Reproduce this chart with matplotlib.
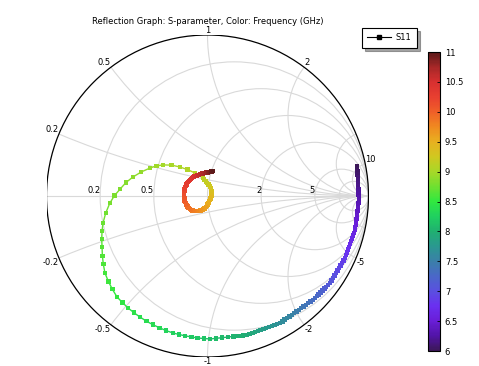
import numpy as np
import matplotlib
matplotlib.use("Agg")
import matplotlib.pyplot as plt
from matplotlib.collections import LineCollection
from matplotlib.colors import LinearSegmentedColormap, Normalize
from matplotlib.patches import Circle
from matplotlib.lines import Line2D
import matplotlib.cm as cm

# ---------------- data ----------------
title = "Reflection Graph: S-parameter, Color: Frequency (GHz)"
series_name = "S11"
f_start, f_stop = 6.0, 11.0

gamma_re = [
    0.929, 0.930, 0.931, 0.932, 0.933, 0.934, 0.935, 0.936, 0.937, 0.938, 0.939, 0.940, 0.941,
    0.939, 0.936, 0.934, 0.932, 0.930, 0.927, 0.925, 0.923, 0.921, 0.918, 0.916,
    0.910, 0.904, 0.897, 0.891, 0.885, 0.879, 0.873, 0.866, 0.860, 0.854,
    0.845, 0.835, 0.826, 0.817, 0.808, 0.798, 0.789, 0.780, 0.770, 0.761,
    0.749, 0.737, 0.726, 0.714, 0.702, 0.690, 0.679, 0.667, 0.655,
    0.640, 0.626, 0.611, 0.596, 0.582, 0.567, 0.553, 0.538, 0.523, 0.509, 0.494, 0.479, 0.465, 0.450,
    0.433, 0.416, 0.399, 0.382, 0.365, 0.348, 0.330, 0.313, 0.296, 0.279, 0.262, 0.245,
    0.220, 0.192, 0.161, 0.127, 0.090, 0.053, 0.016,
    -0.022, -0.062, -0.100, -0.138, -0.177, -0.214,
    -0.257, -0.299, -0.340, -0.380, -0.419,
    -0.458, -0.495, -0.529, -0.562,
    -0.591, -0.616, -0.637,
    -0.647, -0.653, -0.655,
    -0.657, -0.655, -0.649,
    -0.632, -0.606, -0.578, -0.543, -0.506, -0.463, -0.412, -0.357,
    -0.317, -0.276, -0.224, -0.171, -0.124, -0.078,
    -0.028,
    -0.020, -0.011, -0.003, 0.005, 0.014, 0.022,
    0.023, 0.024, 0.025, 0.025, 0.024, 0.022,
    0.018, 0.014, 0.010, 0.005, 0.001, -0.003,
    -0.011, -0.019, -0.027, -0.036, -0.044, -0.053,
    -0.061, -0.069, -0.078, -0.086, -0.094, -0.102,
    -0.110, -0.117, -0.124, -0.130, -0.135, -0.140,
    -0.142, -0.144, -0.146, -0.147, -0.147, -0.146,
    -0.144, -0.142, -0.139, -0.135, -0.131, -0.127,
    -0.121, -0.115, -0.108, -0.102, -0.096, -0.090,
    -0.084, -0.078, -0.071, -0.065, -0.059, -0.053, -0.046, -0.040,
    -0.034, -0.028, -0.021, -0.015, -0.009, -0.003,
    0.002, 0.006, 0.011, 0.016, 0.020, 0.025, 0.029, 0.034,
]

gamma_im = [
    0.186, 0.168, 0.151, 0.133, 0.116, 0.098, 0.081, 0.063, 0.045, 0.028, 0.010, -0.007, -0.025,
    -0.042, -0.059, -0.076, -0.093, -0.110, -0.126, -0.143, -0.160, -0.177, -0.194, -0.211,
    -0.228, -0.246, -0.263, -0.281, -0.298, -0.315, -0.333, -0.350, -0.368, -0.385,
    -0.401, -0.416, -0.432, -0.447, -0.463, -0.478, -0.494, -0.509, -0.525, -0.540,
    -0.552, -0.564, -0.575, -0.587, -0.599, -0.611, -0.622, -0.634, -0.646,
    -0.656, -0.666, -0.677, -0.687, -0.697, -0.707, -0.717, -0.728, -0.738, -0.748, -0.758, -0.768, -0.779, -0.789,
    -0.795, -0.801, -0.808, -0.814, -0.820, -0.826, -0.832, -0.838, -0.845, -0.851, -0.857, -0.863,
    -0.866, -0.869, -0.872, -0.876, -0.880, -0.884, -0.888,
    -0.885, -0.882, -0.875, -0.869, -0.860, -0.851,
    -0.836, -0.818, -0.799, -0.777, -0.752,
    -0.724, -0.694, -0.661, -0.627,
    -0.579, -0.530, -0.478,
    -0.424, -0.371, -0.317,
    -0.267, -0.218, -0.168,
    -0.105, -0.043, 0.002, 0.043, 0.084, 0.118, 0.149, 0.174,
    0.187, 0.193, 0.192, 0.180, 0.164, 0.143,
    0.112,
    0.102, 0.091, 0.081, 0.071, 0.060, 0.050,
    0.041, 0.031, 0.022, 0.013, 0.003, -0.006,
    -0.015, -0.025, -0.034, -0.043, -0.053, -0.062,
    -0.070, -0.077, -0.083, -0.087, -0.090, -0.092,
    -0.093, -0.094, -0.093, -0.092, -0.090, -0.086,
    -0.081, -0.074, -0.066, -0.057, -0.047, -0.037,
    -0.027, -0.016, -0.006, 0.005, 0.015, 0.025,
    0.034, 0.044, 0.053, 0.062, 0.072, 0.081,
    0.088, 0.094, 0.100, 0.106, 0.112, 0.118,
    0.120, 0.123, 0.125, 0.128, 0.130, 0.132, 0.135, 0.137,
    0.139, 0.140, 0.142, 0.143, 0.145, 0.146,
    0.147, 0.148, 0.149, 0.150, 0.151, 0.152, 0.154, 0.155,
]

freq = np.linspace(f_start, f_stop, len(gamma_re))  # uniform frequency sweep (GHz)

resistance_grid = [0.2, 0.5, 1, 2, 5, 10]
reactance_grid = [0.2, 0.5, 1, 2, 5, 10]
real_axis_labels = [0.2, 0.5, 2, 5]
rim_labels = [0.2, 0.5, 1, 2, 10, -0.2, -0.5, -1, -2, -5]
cbar_ticks = [6, 6.5, 7, 7.5, 8, 8.5, 9, 9.5, 10, 10.5, 11]

cmap_colors = ["#3c1858", "#5214a8", "#6a1ed8", "#6a30f0", "#5a50e0", "#4a68c8",
               "#3a80a8", "#2a9890", "#20b070", "#20d060", "#30e840", "#70e030",
               "#a8d828", "#d0c820", "#e8b020", "#f08a20", "#f06028", "#e84030",
               "#d83030", "#a82828", "#5c1a1a"]

# ---------------- figure ----------------
W, H = 479, 366
fig = plt.figure(figsize=(W / 100, H / 100), dpi=100)
fs = 6

cx, cy, R = 207.5, 196.0, 161.0
ax = fig.add_axes([(cx - R) / W, (H - cy - R) / H, 2 * R / W, 2 * R / H])
ax.set_xlim(-1, 1)
ax.set_ylim(-1, 1)
ax.axis("off")

unit = Circle((0, 0), 1, fill=False, ec="black", lw=0.9, zorder=3)
ax.add_patch(unit)
gcol = "#d9d9d9"
for r in resistance_grid:
    ax.add_patch(Circle((r / (1 + r), 0), 1 / (1 + r), fill=False, ec=gcol, lw=0.8, zorder=1))
for x in reactance_grid:
    for s in (1, -1):
        c = Circle((1, s / x), 1 / x, fill=False, ec=gcol, lw=0.8, zorder=1)
        ax.add_patch(c)
        c.set_clip_path(unit)
ax.plot([-1, 1], [0, 0], color=gcol, lw=0.8, zorder=1)

for r in real_axis_labels:
    g = (r - 1) / (r + 1)
    ax.text(g, 0.004, f"{r:g}", ha="right", va="bottom", fontsize=fs)
for x in rim_labels:
    z = complex(0, x)
    g = (z - 1) / (z + 1)
    if abs(g.real) < 0.05:
        ha = "center"
    elif g.real > 0:
        ha = "left"
    else:
        ha = "right"
    va = "bottom" if x > 0 else "top"
    ax.text(g.real, g.imag, f"{x:g}", ha=ha, va=va, fontsize=fs)

cmap = LinearSegmentedColormap.from_list("rainbow_comsol", cmap_colors)
norm = Normalize(f_start, f_stop)
pts = np.column_stack([gamma_re, gamma_im])
segs = np.stack([pts[:-1], pts[1:]], axis=1)
lc = LineCollection(segs, cmap=cmap, norm=norm, lw=1.0, zorder=4)
lc.set_array((freq[:-1] + freq[1:]) / 2)
ax.add_collection(lc)
ax.scatter(gamma_re, gamma_im, c=freq, cmap=cmap, norm=norm, marker="s", s=10,
           linewidths=0, zorder=5)

fig.text(cx / W, 1 - 22 / H, title, ha="center", va="center", fontsize=fs)

# colorbar
cax = fig.add_axes([428 / W, (H - 351) / H, 12 / W, 299 / H])
cb = fig.colorbar(cm.ScalarMappable(norm=norm, cmap=cmap), cax=cax)
cb.set_ticks(cbar_ticks)
cb.set_ticklabels([f"{t:g}" for t in cbar_ticks])
cax.tick_params(direction="in", length=2.5, width=0.6, labelsize=fs, pad=3.5)
cb.outline.set_linewidth(0.8)

# legend
handle = Line2D([], [], color="black", lw=0.8, marker="s", markersize=2.5)
leg = fig.legend([handle], [series_name], loc="upper left",
                 bbox_to_anchor=(362 / W, 1 - 28 / H), borderaxespad=0,
                 fontsize=fs, frameon=True, fancybox=False, shadow=True,
                 edgecolor="black", borderpad=0.65, handlelength=2.8,
                 handletextpad=0.6)
leg.get_frame().set_linewidth(0.8)

fig.savefig("out.png", dpi=100)
